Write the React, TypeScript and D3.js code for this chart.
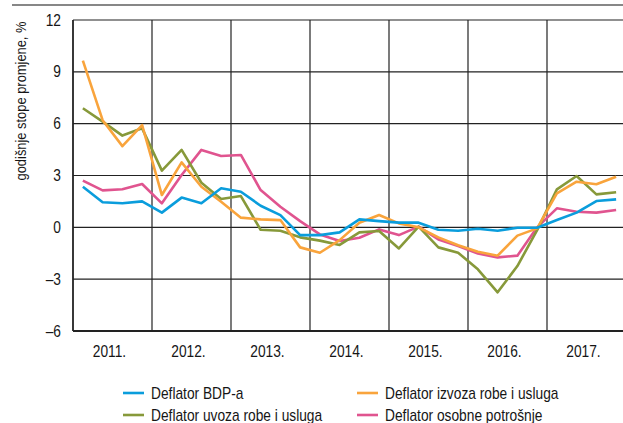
import React from "react";
import * as d3 from "d3";

const years = ["2011.", "2012.", "2013.", "2014.", "2015.", "2016.", "2017."];
const yTicks = [-6, -3, 0, 3, 6, 9, 12];

const bdp = [2.35, 1.45, 1.39, 1.5, 0.85, 1.72, 1.39, 2.26, 2.06, 1.25, 0.71, -0.45, -0.45, -0.29, 0.46, 0.36, 0.27, 0.27, -0.14, -0.2, -0.08, -0.2, -0.02, -0.02, 0.42, 0.85, 1.52, 1.62];
const izvoz = [9.65, 6.2, 4.7, 5.92, 1.87, 3.76, 2.35, 1.48, 0.56, 0.46, 0.42, -1.16, -1.47, -0.74, 0.27, 0.71, 0.23, 0.0, -0.58, -1.04, -1.41, -1.64, -0.48, -0.06, 1.97, 2.64, 2.49, 2.93];
const uvoz = [6.89, 6.12, 5.31, 5.73, 3.28, 4.48, 2.58, 1.64, 1.81, -0.14, -0.2, -0.58, -0.77, -1.02, -0.29, -0.21, -1.22, 0.04, -1.16, -1.47, -2.43, -3.76, -2.24, -0.16, 2.2, 2.97, 1.91, 2.03];
const osobna = [2.7, 2.14, 2.2, 2.51, 1.39, 3.03, 4.48, 4.13, 4.19, 2.16, 1.19, 0.36, -0.41, -0.79, -0.6, -0.12, -0.45, 0.04, -0.7, -1.08, -1.51, -1.74, -1.64, 0.0, 1.1, 0.9, 0.85, 1.0];

const seriesNames = ["Deflator BDP-a", "Deflator izvoza robe i usluga", "Deflator uvoza robe i usluga", "Deflator osobne potrošnje"];
const seriesColors = ["#0a9ddc", "#f9a43c", "#87993a", "#e0548f"];
const seriesData = [bdp, izvoz, uvoz, osobna];

const FONT = "'Liberation Sans', Arial, sans-serif";
const SX = 0.86;

function T(props: { x: number; y: number; size: number; anchor?: string; rotate?: number; children: React.ReactNode }) {
  const { x, y, size, anchor = "start", rotate = 0, children } = props;
  return (
    <text
      transform={`translate(${x},${y}) rotate(${rotate}) scale(${SX},1)`}
      textAnchor={anchor}
      dy="0.35em"
      fontSize={size}
      fill="#161616"
    >
      {children}
    </text>
  );
}

export default function App() {
  const W = 623, H = 423;
  const x = d3.scaleLinear().domain([0, 28]).range([73, 626]);
  const y = d3.scaleLinear().domain([-6, 12]).range([331, 20]);
  const line = d3.line<number>().x((_, i) => x(i + 0.5)).y(d => y(d));
  const order = [3, 2, 1, 0];
  const legendPos = [
    { lx: 123, ly: 393 },
    { lx: 357, ly: 393 },
    { lx: 123, ly: 415 },
    { lx: 357, ly: 415 },
  ];
  return (
    <svg width={W} height={H} style={{ position: "absolute", left: 0, top: 0, background: "#fff" }} fontFamily={FONT}>
      <line x1={12} x2={623} y1={5} y2={5} stroke="#111" strokeWidth={1.2} />
      {yTicks.map(t => (
        <line key={"h" + t} x1={73} x2={626} y1={y(t)} y2={y(t)} stroke="#222" strokeWidth={t === -6 ? 2 : 1.2} />
      ))}
      {d3.range(0, 7).map(k => (
        <line key={"v" + k} x1={x(k * 4)} x2={x(k * 4)} y1={y(12)} y2={y(-6)} stroke="#222" strokeWidth={k === 0 ? 1.8 : 1.2} />
      ))}
      {yTicks.map(t => (
        <T key={"t" + t} x={61} y={y(t)} size={16} anchor="end">
          {t < 0 ? "\u2013" + Math.abs(t) : String(t)}
        </T>
      ))}
      {years.map((yr, k) => (
        <T key={yr} x={x(k * 4 + 2) - 3} y={351} size={16} anchor="middle">
          {yr}
        </T>
      ))}
      <T x={21} y={101} size={15} anchor="middle" rotate={-90}>
        godišnje stope promjene, %
      </T>
      {order.map(si => (
        <path key={"s" + si} d={line(seriesData[si]) || ""} fill="none" stroke={seriesColors[si]} strokeWidth={2.6} strokeLinejoin="round" />
      ))}
      {seriesNames.map((n, i) => {
        const pos = legendPos[i];
        return (
          <g key={n}>
            <line x1={pos.lx} x2={pos.lx + 21} y1={pos.ly} y2={pos.ly} stroke={seriesColors[i]} strokeWidth={2.6} />
            <T x={pos.lx + 28} y={pos.ly} size={16}>{n}</T>
          </g>
        );
      })}
    </svg>
  );
}
